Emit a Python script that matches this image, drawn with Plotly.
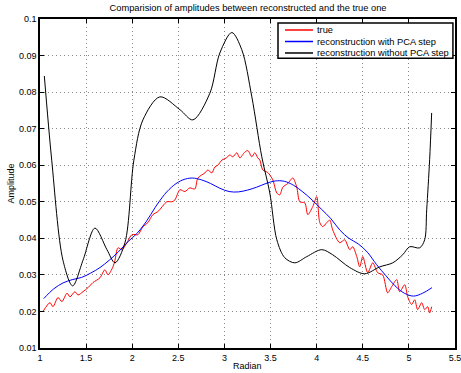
import plotly.graph_objects as go

# ---- data ----
true_x = [1.033, 1.108, 1.141, 1.195, 1.238, 1.293, 1.325, 1.379, 1.412, 1.466,
          1.520, 1.574, 1.650, 1.704, 1.737, 1.791, 1.813, 1.845, 1.888, 1.943,
          1.997, 2.062, 2.116, 2.170, 2.224, 2.278, 2.376, 2.430, 2.463, 2.517,
          2.571, 2.625, 2.679, 2.712, 2.788, 2.820, 2.863, 2.896, 2.928, 2.972,
          3.020, 3.059, 3.091, 3.134, 3.167, 3.221, 3.254, 3.297, 3.329, 3.362,
          3.384, 3.416, 3.470, 3.524, 3.568, 3.600, 3.633, 3.687, 3.741, 3.784,
          3.817, 3.871, 3.904, 3.958, 4.001, 4.034, 4.066, 4.110, 4.142, 4.174,
          4.250, 4.304, 4.359, 4.391, 4.435, 4.467, 4.500, 4.554, 4.608, 4.662,
          4.716, 4.770, 4.814, 4.868, 4.900, 4.955, 4.987, 5.030, 5.063, 5.095,
          5.139, 5.171, 5.204, 5.225, 5.247]
true_y = [0.0200, 0.0224, 0.0213, 0.0238, 0.0227, 0.0250, 0.0240, 0.0254, 0.0245, 0.0254,
          0.0265, 0.0279, 0.0292, 0.0314, 0.0300, 0.0322, 0.0340, 0.0374, 0.0369, 0.0388,
          0.0410, 0.0410, 0.0432, 0.0443, 0.0465, 0.0473, 0.0500, 0.0500, 0.0505, 0.0533,
          0.0528, 0.0538, 0.0535, 0.0565, 0.0579, 0.0587, 0.0579, 0.0595, 0.0600, 0.0614,
          0.0620, 0.0628, 0.0623, 0.0634, 0.0620, 0.0636, 0.0640, 0.0623, 0.0634, 0.0620,
          0.0614, 0.0587, 0.0580, 0.0560, 0.0524, 0.0519, 0.0540, 0.0550, 0.0565, 0.0540,
          0.0500, 0.0497, 0.0465, 0.0487, 0.0514, 0.0443, 0.0432, 0.0443, 0.0450, 0.0423,
          0.0388, 0.0396, 0.0369, 0.0377, 0.0350, 0.0322, 0.0350, 0.0306, 0.0333, 0.0306,
          0.0300, 0.0251, 0.0268, 0.0287, 0.0254, 0.0273, 0.0240, 0.0219, 0.0232, 0.0205,
          0.0224, 0.0205, 0.0213, 0.0196, 0.0213]

pca_x = [1.04, 1.15, 1.25, 1.35, 1.45, 1.55, 1.65, 1.75, 1.85, 1.95, 2.05, 2.15,
         2.25, 2.35, 2.45, 2.55, 2.65, 2.75, 2.85, 2.95, 3.05, 3.15, 3.25, 3.35,
         3.45, 3.55, 3.65, 3.75, 3.85, 3.95, 4.05, 4.15, 4.25, 4.35, 4.45, 4.55,
         4.65, 4.75, 4.85, 4.95, 5.05, 5.15, 5.25]
pca_y = [0.0235, 0.0262, 0.0278, 0.0287, 0.0293, 0.0305, 0.0320, 0.0340, 0.0363, 0.0390,
         0.0413, 0.0445, 0.0485, 0.0520, 0.0545, 0.0560, 0.0565, 0.0560, 0.0550, 0.0537,
         0.0528, 0.0527, 0.0532, 0.0540, 0.0550, 0.0557, 0.0556, 0.0545, 0.0527, 0.0505,
         0.0480, 0.0455, 0.0423, 0.0400, 0.0385, 0.0362, 0.0328, 0.0298, 0.0270, 0.0250,
         0.0242, 0.0250, 0.0265]

nopca_x = [1.047, 1.127, 1.249, 1.354, 1.466, 1.596, 1.726, 1.813, 1.921, 2.018,
           2.116, 2.300, 2.517, 2.658, 2.842, 2.950, 3.080, 3.188, 3.297, 3.405,
           3.492, 3.568, 3.654, 3.763, 3.893, 4.055, 4.174, 4.359, 4.521, 4.684,
           4.825, 4.933, 5.009, 5.117, 5.171, 5.193, 5.225, 5.247]
nopca_y = [0.0844, 0.0614, 0.0340, 0.0270, 0.0340, 0.0428, 0.0369, 0.0333, 0.0388, 0.0614,
           0.0724, 0.0787, 0.0752, 0.0724, 0.0797, 0.0907, 0.0963, 0.0916, 0.0787, 0.0623,
           0.0524, 0.0396, 0.0347, 0.0333, 0.0350, 0.0369, 0.0355, 0.0320, 0.0303, 0.0322,
           0.0333, 0.0355, 0.0377, 0.0374, 0.0396, 0.0478, 0.0615, 0.0743]

series_names = ["true", "reconstruction with PCA step", "reconstruction without PCA step"]
series_colors = ["#ff0000", "#0000ff", "#000000"]

x_ticks = [1, 1.5, 2, 2.5, 3, 3.5, 4, 4.5, 5, 5.5]
y_ticks = [0.01, 0.02, 0.03, 0.04, 0.05, 0.06, 0.07, 0.08, 0.09, 0.1]

FONT = "Liberation Sans, Arial, sans-serif"

fig = go.Figure()
for xs, ys, name, col, sm in zip([true_x, pca_x, nopca_x], [true_y, pca_y, nopca_y],
                                 series_names, series_colors, [0.8, 1.0, 0.9]):
    fig.add_trace(go.Scatter(x=xs, y=ys, mode="lines", name=name, showlegend=False,
                             line=dict(color=col, width=1, shape="spline", smoothing=sm)))

axis_common = dict(
    showline=True, linecolor="black", linewidth=1.5, mirror="ticks",
    ticks="inside", ticklen=4, tickcolor="black", automargin=False,
    ticklabeloverflow="allow",
    showgrid=True, gridcolor="#888888", griddash="1px,3px", gridwidth=1,
    zeroline=False, tickfont=dict(family=FONT, size=9, color="black"),
)

# manual MATLAB-style compact legend (paper coordinates)
lx0, lx1, ly0, ly1 = 0.5735, 0.995, 0.881, 0.988
shapes = [dict(type="rect", xref="paper", yref="paper", x0=lx0, x1=lx1, y0=ly0, y1=ly1,
               fillcolor="white", line=dict(color="black", width=1.5), layer="above")]
annotations = []
item_y = [0.9666, 0.9316, 0.8967]
for yy, name, col in zip(item_y, series_names, series_colors):
    shapes.append(dict(type="line", xref="paper", yref="paper", x0=0.5904, x1=0.6578,
                       y0=yy, y1=yy, line=dict(color=col, width=1.5), layer="above"))
    annotations.append(dict(xref="paper", yref="paper", x=0.663, y=yy, text=name,
                            showarrow=False, xanchor="left", yanchor="middle",
                            font=dict(family=FONT, size=9.3, color="black")))

annotations.append(dict(xref="paper", yref="paper", x=0.5, y=-0.034, text="Radian",
                        showarrow=False, xanchor="center", yanchor="top",
                        font=dict(family=FONT, size=9, color="black")))
annotations.append(dict(xref="paper", yref="paper", x=-0.072, y=0.5, text="Amplitude",
                        showarrow=False, xanchor="center", yanchor="middle", textangle=-90,
                        font=dict(family=FONT, size=9, color="black")))

fig.update_layout(
    width=461, height=373,
    margin=dict(l=40, r=6, t=19, b=25, autoexpand=False),
    paper_bgcolor="white", plot_bgcolor="white",
    font=dict(family=FONT, size=9, color="black"),
    title=dict(text="Comparision of amplitudes between reconstructed and the true one",
               x=0.538, xanchor="center", xref="container", y=0.988, yanchor="top",
               font=dict(family=FONT, size=9.3, color="black")),
    xaxis=dict(range=[1, 5.5], tickvals=x_ticks, ticktext=[f"{v:g}" for v in x_ticks],
               **axis_common),
    yaxis=dict(range=[0.01, 0.1], tickvals=y_ticks, ticktext=[f"{v:g}" for v in y_ticks],
               **axis_common),
    shapes=shapes,
    annotations=annotations,
    showlegend=False,
)

fig.write_html("out.html", config={"displayModeBar": False},
               post_script="document.body.style.margin='0px';document.body.style.overflow='hidden';")
